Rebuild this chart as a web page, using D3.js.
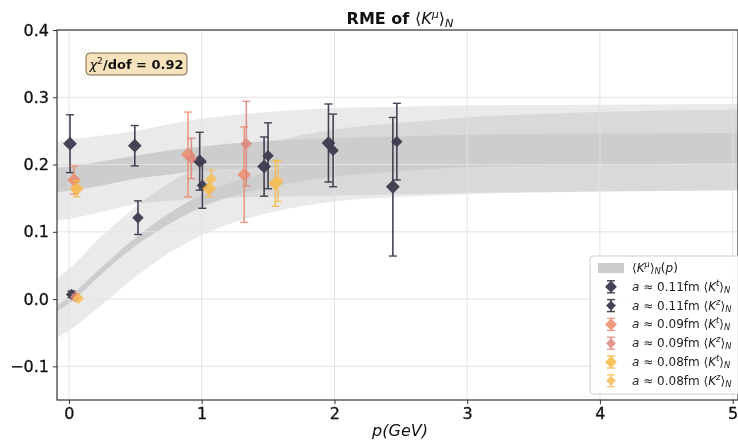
<!DOCTYPE html>
<html>
<head>
<meta charset="utf-8">
<script src="https://cdn.jsdelivr.net/npm/d3@7"></script>
<style>
  body { margin: 0; background: #fff; }
  text { font-family: "DejaVu Sans", sans-serif; }
</style>
</head>
<body>
<div id="chart"></div>
<script>
// fit bands at a few momenta
var bandP   = [-0.09, 0, 0.25, 0.5, 0.75, 1, 1.5, 2, 2.5, 3, 4, 5.1];
var tOutHi  = [0.234, 0.237, 0.243, 0.250, 0.260, 0.268, 0.278, 0.284, 0.286, 0.288, 0.289, 0.290];
var tOutLo  = [0.116, 0.119, 0.130, 0.141, 0.146, 0.150, 0.152, 0.154, 0.156, 0.158, 0.160, 0.162];
var tInHi   = [0.195, 0.197, 0.205, 0.213, 0.221, 0.227, 0.235, 0.239, 0.242, 0.244, 0.246, 0.247];
var tInLo   = [0.159, 0.161, 0.169, 0.179, 0.185, 0.191, 0.195, 0.199, 0.200, 0.202, 0.204, 0.205];
var zOutHi  = [0.031, 0.045, 0.094, 0.137, 0.172, 0.197, 0.232, 0.252, 0.262, 0.270, 0.278, 0.282];
var zOutLo  = [-0.058, -0.047, -0.008, 0.033, 0.068, 0.095, 0.128, 0.145, 0.152, 0.156, 0.160, 0.162];
var zInHi   = [-0.010, 0.003, 0.048, 0.091, 0.127, 0.155, 0.190, 0.210, 0.222, 0.230, 0.238, 0.242];
var zInLo   = [-0.018, -0.007, 0.038, 0.079, 0.111, 0.137, 0.166, 0.182, 0.190, 0.196, 0.200, 0.202];

// lattice points: momentum, value, error
var p011t = [0.008, 0.496, 0.985, 1.47, 1.955, 2.44];
var v011t = [0.231, 0.228, 0.205, 0.197, 0.232, 0.167];
var e011t = [0.043, 0.030, 0.043, 0.044, 0.058, 0.103];
var p011z = [0.02, 0.52, 1.005, 1.50, 1.99, 2.47];
var v011z = [0.007, 0.121, 0.169, 0.213, 0.221, 0.234];
var e011z = [0.005, 0.025, 0.034, 0.049, 0.054, 0.057];
var p009t = [0.038, 0.897, 1.32];
var v009t = [0.177, 0.215, 0.185];
var e009t = [0.021, 0.063, 0.071];
var p009z = [0.05, 0.922, 1.336];
var v009z = [0.003, 0.209, 0.231];
var e009z = [0.004, 0.030, 0.063];
var p008t = [0.058, 1.055, 1.555];
var v008t = [0.164, 0.164, 0.172];
var e008t = [0.012, 0.012, 0.034];
var p008z = [0.07, 1.073, 1.575];
var v008z = [0.001, 0.179, 0.175];
var e008z = [0.003, 0.013, 0.030];

var xTicks = [0, 1, 2, 3, 4, 5];
var yTicks = [-0.1, 0.0, 0.1, 0.2, 0.3, 0.4];
var spacings = ["0.11", "0.11", "0.09", "0.09", "0.08", "0.08"];
var comps = ["t", "z", "t", "z", "t", "z"];
var chi2 = "0.92";

function drawChart() {
  var width = 738, height = 440;
  var plotL = 57, plotR = 738, plotT = 30, plotB = 400;

  var svg = d3.select("#chart").append("svg")
    .attr("width", width)
    .attr("height", height);

  var x = d3.scaleLinear().domain([-0.09, 5.04]).range([plotL, plotR]);
  var y = d3.scaleLinear().domain([-0.15, 0.4]).range([plotB, plotT]);

  svg.append("clipPath").attr("id", "plotclip")
    .append("rect").attr("x", plotL).attr("y", plotT)
    .attr("width", plotR - plotL).attr("height", plotB - plotT);

  var plot = svg.append("g").attr("clip-path", "url(#plotclip)");

  function band(lo, hi) {
    return d3.area()
      .x(function(d, i) { return x(bandP[i]); })
      .y0(function(d, i) { return y(lo[i]); })
      .y1(function(d, i) { return y(hi[i]); })
      .curve(d3.curveMonotoneX)(bandP);
  }

  // outer bands (blend), inner bands (flat)
  plot.append("path").attr("d", band(tOutLo, tOutHi))
    .style("fill", "#969696").style("fill-opacity", 0.2);
  plot.append("path").attr("d", band(zOutLo, zOutHi))
    .style("fill", "#969696").style("fill-opacity", 0.2);
  plot.append("path").attr("d", band(tInLo, tInHi)).style("fill", "#cdcdcd");
  plot.append("path").attr("d", band(zInLo, zInHi)).style("fill", "#cdcdcd");

  // grid
  plot.selectAll(".gx").data(xTicks).enter().append("line")
    .attr("x1", function(d) { return x(d); }).attr("x2", function(d) { return x(d); })
    .attr("y1", plotT).attr("y2", plotB)
    .style("stroke", "#e2e2e2").style("stroke-width", 1);
  plot.selectAll(".gy").data(yTicks).enter().append("line")
    .attr("x1", plotL).attr("x2", plotR)
    .attr("y1", function(d) { return y(d); }).attr("y2", function(d) { return y(d); })
    .style("stroke", "#e2e2e2").style("stroke-width", 1);

  var series = [
    { p: p011t, v: v011t, e: e011t, color: "#3b394c", size: 95, op: 0.95 },
    { p: p011z, v: v011z, e: e011z, color: "#3b394c", size: 65, op: 0.95 },
    { p: p009t, v: v009t, e: e009t, color: "#ec8a6c", size: 95, op: 0.85 },
    { p: p009z, v: v009z, e: e009z, color: "#e0837a", size: 65, op: 0.85 },
    { p: p008t, v: v008t, e: e008t, color: "#f7b746", size: 95, op: 0.85 },
    { p: p008z, v: v008z, e: e008z, color: "#f5bf5a", size: 65, op: 0.85 }
  ];

  var diamond = function(size) {
    return d3.symbol().type(d3.symbolSquare).size(size)();
  };

  function errGlyph(g, cx, cyv, cyLo, cyHi, s) {
    g.append("line").attr("x1", cx).attr("x2", cx).attr("y1", cyLo).attr("y2", cyHi)
      .style("stroke", s.color).style("stroke-width", 1.6);
    [cyLo, cyHi].forEach(function(cy) {
      g.append("line").attr("x1", cx - 4).attr("x2", cx + 4).attr("y1", cy).attr("y2", cy)
        .style("stroke", s.color).style("stroke-width", 1.4);
    });
    g.append("path").attr("d", diamond(s.size))
      .attr("transform", "translate(" + cx + "," + cyv + ") rotate(45)")
      .style("fill", s.color);
  }

  series.forEach(function(s) {
    var g = plot.append("g").style("opacity", s.op);
    s.p.forEach(function(pp, i) {
      errGlyph(g, x(pp), y(s.v[i]), y(s.v[i] - s.e[i]), y(s.v[i] + s.e[i]), s);
    });
  });

  // frame
  svg.append("rect").attr("x", plotL).attr("y", plotT)
    .attr("width", plotR - plotL).attr("height", plotB - plotT)
    .style("fill", "none").style("stroke", "#333").style("stroke-width", 1.2);

  // axes
  var xAxis = svg.append("g").attr("transform", "translate(0," + plotB + ")")
    .call(d3.axisBottom(x).tickValues(xTicks).tickSize(4).tickPadding(4).tickFormat(d3.format("d")));
  var yAxis = svg.append("g").attr("transform", "translate(" + plotL + ",0)")
    .call(d3.axisLeft(y).tickValues(yTicks).tickSize(4).tickPadding(4).tickFormat(d3.format(".1f")));
  [xAxis, yAxis].forEach(function(a) {
    a.select(".domain").remove();
    a.selectAll(".tick line").style("stroke", "#333");
    a.selectAll(".tick text").style("font-family", "DejaVu Sans")
      .style("font-size", "16px").style("fill", "#111")
      .style("stroke", "#111").style("stroke-width", 0.3);
  });

  function rich(sel, parts, size) {
    parts.forEach(function(pt) {
      var ts = sel.append("tspan").text(pt.t);
      if (pt.it) ts.style("font-style", "italic");
      if (pt.w) ts.style("font-weight", pt.w);
      if (pt.sup) ts.attr("baseline-shift", "super").style("font-size", (size * 0.7) + "px");
      if (pt.sub) ts.attr("baseline-shift", "-25%").style("font-size", (size * 0.7) + "px");
    });
  }

  // title
  var title = svg.append("text").attr("x", 400).attr("y", 24)
    .attr("text-anchor", "middle").style("font-size", "16px").style("fill", "#111");
  rich(title, [
    { t: "RME of ", w: "bold" }, { t: "\u27E8" }, { t: "K", it: true },
    { t: "\u03BC", it: true, sup: true }, { t: "\u27E9" }, { t: "N", it: true, sub: true }
  ], 16);

  // x label
  var xl = svg.append("text").attr("x", 400).attr("y", 436)
    .attr("text-anchor", "middle").style("font-size", "16px").style("fill", "#111");
  rich(xl, [{ t: "p(GeV)", it: true }], 16);

  // chi2 box
  svg.append("rect").attr("x", 86).attr("y", 53).attr("width", 101).attr("height", 22)
    .attr("rx", 4).style("fill", "#f6e3bd").style("stroke", "#7d6a45").style("stroke-width", 1);
  var ct = svg.append("text").attr("x", 136.5).attr("y", 69)
    .attr("text-anchor", "middle").style("font-size", "13px").style("fill", "#111");
  rich(ct, [
    { t: "\u03C7", it: true }, { t: "2", sup: true }, { t: "/dof = " + chi2, w: "bold" }
  ], 13);

  // legend
  var lg = svg.append("g");
  lg.append("rect").attr("x", 590).attr("y", 256).attr("width", 152).attr("height", 138)
    .attr("rx", 3).style("fill", "#fff").style("fill-opacity", 0.85)
    .style("stroke", "#d0d0d0").style("stroke-width", 1);
  var rowY = function(i) { return 268 + i * 18.8; };
  lg.append("rect").attr("x", 598).attr("y", rowY(0) - 5).attr("width", 26).attr("height", 10)
    .style("fill", "#cccccc");
  var l0 = lg.append("text").attr("x", 632).attr("y", rowY(0) + 4)
    .style("font-size", "12px").style("fill", "#222");
  rich(l0, [
    { t: "\u27E8" }, { t: "K", it: true }, { t: "\u03BC", it: true, sup: true }, { t: "\u27E9" },
    { t: "N", it: true, sub: true }, { t: "(" }, { t: "p", it: true }, { t: ")" }
  ], 12);

  series.forEach(function(s, i) {
    var cy = rowY(i + 1);
    var g = lg.append("g").style("opacity", s.op);
    errGlyph(g, 611, cy, cy + 6, cy - 6, { color: s.color, size: s.size * 0.75 });
    var t = lg.append("text").attr("x", 632).attr("y", cy + 4)
      .style("font-size", "12px").style("fill", "#222");
    rich(t, [
      { t: "a", it: true }, { t: " \u2248 " + spacings[i] + "fm " }, { t: "\u27E8" },
      { t: "K", it: true }, { t: comps[i], it: true, sup: true }, { t: "\u27E9" },
      { t: "N", it: true, sub: true }
    ], 12);
  });
}

drawChart();
</script>
</body>
</html>
